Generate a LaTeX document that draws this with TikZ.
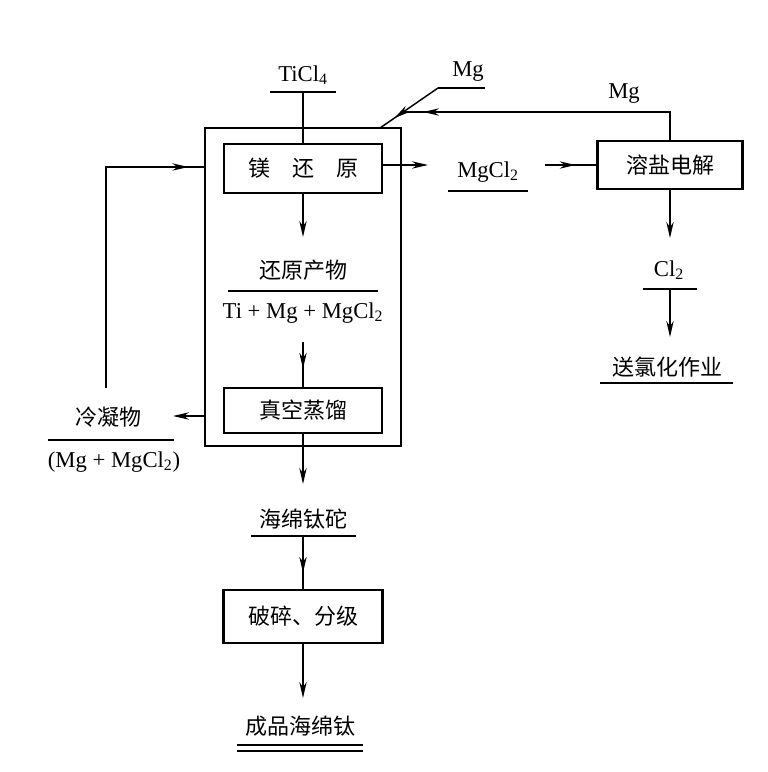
\documentclass[tikz,border=0pt]{standalone}
\usepackage{fontspec}
\setmainfont{Liberation Serif}
\newfontfamily\cjk{Noto Sans CJK SC}
\usetikzlibrary{arrows.meta,decorations.markings}
\begin{document}
\begin{tikzpicture}[x=0.75pt,y=-0.75pt,
  line width=1.1pt,
  tip/.tip={Stealth[length=12pt,width=5.5pt]},
  proc/.style={draw, line width=2.2pt, inner sep=0pt, font=\cjk\fontsize{16.5}{18}\selectfont},
  cn/.style={inner sep=0pt, font=\cjk\fontsize{16.5}{18}\selectfont},
  lat/.style={inner sep=0pt, font=\fontsize{17}{19}\selectfont},
  flow/.style={-tip},
  midarrow/.style={postaction={decorate}, decoration={markings, mark=at position #1 with {\arrow{tip}}}},
  rule/.style={line width=1.4pt},
]
\useasboundingbox (0,0) rectangle (768,772);
\fill[white] (0,0) rectangle (768,772);

% outer reactor box
\node[draw, inner sep=0pt, minimum width=147pt, minimum height=238.5pt] (outer) at (303,287) {};

% process boxes
\node[proc, minimum width=118.5pt, minimum height=36.75pt] (mr) at (303,168.5) {镁\hspace{1em}还\hspace{1em}原};
\node[proc, minimum width=108.75pt, minimum height=36pt] (el) at (670,165) {溶盐电解};
\node[proc, minimum width=118.5pt, minimum height=33.75pt] (vd) at (303,410.5) {真空蒸馏};
\node[proc, minimum width=119.25pt, minimum height=39.75pt] (cr) at (303,616.5) {破碎、分级};

% labels
\node[lat] (ticl) at (303,75) {TiCl\textsubscript{4}};
\node[lat] (mg1) at (468,72) {Mg};
\node[lat] (mg2) at (624,94) {Mg};
\node[lat] (mgcl) at (488,172) {MgCl\textsubscript{2}};
\node[lat] (cl) at (669,270) {Cl\textsubscript{2}};
\node[cn] (chl) at (667,367) {送氯化作业};
\node[cn] (rp) at (303,270) {还原产物};
\node[lat] (rpf) at (303,313) {Ti + Mg + MgCl\textsubscript{2}};
\node[cn] (cond) at (108,417) {冷凝物};
\node[lat] (condf) at (114,462) {(Mg + MgCl\textsubscript{2})};
\node[cn] (sp) at (303,519) {海绵钛砣};
\node[cn] (prod) at (300,726) {成品海绵钛};

% rules (underlines)
\coordinate (ti) at (303,92);
\draw[rule] (270,92) -- (336,92);
\coordinate (mgA) at (438,88);
\draw[rule] (mgA) -- (485,88);
\draw[rule] (448,191) -- (528,191);
\coordinate (cla) at (670,289);
\draw[rule] (643,289) -- (697,289);
\draw[line width=2.2pt] (600,383) -- (733,383);
\draw[rule] (228,291) -- (378,291);
\draw[rule] (48,440) -- (174,440);
\coordinate (spa) at (303,536);
\draw[rule] (251,536) -- (356,536);
\draw[rule] (237,745) -- (363,745);
\draw[rule] (237,751) -- (363,751);

% connectors
\coordinate (mgin) at (380,128);
\coordinate (jn) at (404,112);
\draw (ti) -- (ti |- mr.north);
\draw[midarrow=0.75] (mgA) -- (mgin);
\draw[midarrow=0.935] (el.north) |- (jn);
\coordinate (mgclin) at (428,165);
\draw[flow] (mr.east |- mgclin) -- (mgclin);
\coordinate (mgclout) at (545,165);
\draw[midarrow=0.6] (mgclout) -- (el.west |- mgclout);
\coordinate (clin) at (670,238);
\draw[flow] (el.south) -- (clin);
\coordinate (chlin) at (670,337);
\draw[flow] (cla) -- (chlin);
\coordinate (rpin) at (303,237);
\draw[flow] (mr.south) -- (rpin);
\coordinate (rpout) at (303,342);
\draw[midarrow=0.6] (rpout) -- (vd.north);
\coordinate (spin) at (303,484);
\draw[flow] (vd.south) -- (spin);
\coordinate (condin) at (173,416);
\draw[flow] (outer.west |- condin) -- (condin);
\coordinate (condout) at (106,388);
\coordinate (back) at (205,167);
\draw[midarrow=0.95] (condout) |- (outer.west |- back);
\draw[midarrow=0.7] (spa) -- (cr.north);
\coordinate (prodin) at (303,698);
\draw[flow] (cr.south) -- (prodin);
\end{tikzpicture}
\end{document}
